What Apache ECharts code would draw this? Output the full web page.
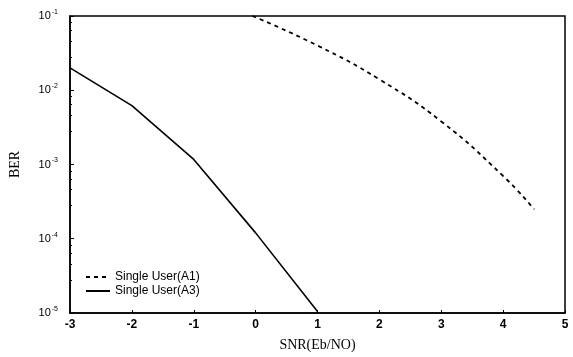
<!DOCTYPE html>
<html>
<head>
<meta charset="utf-8">
<script src="https://cdn.jsdelivr.net/npm/echarts@6/dist/echarts.min.js"></script>
<style>
  html, body { margin: 0; padding: 0; background: #fff; }
  #chart { width: 573px; height: 357px; }
</style>
</head>
<body>
<div id="chart"></div>
<script>
// BER vs SNR curves
const snrA1 = [-0.05, 1, 2, 3, 4, 4.5];
const berA1 = [0.1, 0.04, 0.014, 0.0038, 0.0007, 0.00025];

const snrA3 = [-3, -2, -1, 0, 1];
const berA3 = [0.02, 0.0062, 0.00117, 0.00012, 0.0000105];

const xTicks = { min: -3, max: 5, step: 1 };

const chart = echarts.init(document.getElementById('chart'));

const axisBlack = { onZero: false, lineStyle: { color: '#000', width: 1.5 } };

chart.setOption({
    backgroundColor: '#fff',
    animation: false,
    color: ['#000', '#000'],
    grid: { left: 65, right: 8, top: 16, bottom: 43, show: true, borderColor: '#000', borderWidth: 1.5 },
    legend: {
        left: 80, top: 266, orient: 'vertical',
        itemWidth: 24, itemHeight: 10, itemGap: 2,
        itemStyle: { opacity: 0 },
        textStyle: { fontFamily: 'Liberation Sans, Arial', fontSize: 12, color: '#000' },
        data: ['Single User(A1)', 'Single User(A3)']
    },
    xAxis: {
        type: 'value',
        min: xTicks.min, max: xTicks.max, interval: xTicks.step,
        name: 'SNR(Eb/NO)', nameLocation: 'middle', nameGap: 25,
        nameTextStyle: { fontFamily: 'Liberation Serif, Times New Roman', fontSize: 14, color: '#000' },
        axisLine: axisBlack,
        axisTick: { inside: true, length: 3, lineStyle: { color: '#000' } },
        axisLabel: { fontFamily: 'Liberation Sans, Arial', fontSize: 12, fontWeight: 'bold', color: '#000', margin: 6 },
        splitLine: { show: false }
    },
    yAxis: {
        type: 'log', logBase: 10,
        min: 0.00001, max: 0.1,
        name: 'BER', nameLocation: 'middle', nameGap: 48,
        nameTextStyle: { fontFamily: 'Liberation Serif, Times New Roman', fontSize: 14, color: '#000' },
        axisLine: axisBlack,
        axisTick: { inside: true, length: 4, lineStyle: { color: '#000' } },
        minorTick: { show: true, splitNumber: 5, length: 2, lineStyle: { color: '#000' } },
        axisLabel: {
            color: '#000', margin: 12,
            formatter: function (v) {
                return '{b|10}{s|' + Math.round(Math.log10(v)) + '}';
            },
            rich: {
                b: { fontFamily: 'Liberation Sans, Arial', fontSize: 11, color: '#000' },
                s: { fontFamily: 'Liberation Sans, Arial', fontSize: 7, color: '#000', verticalAlign: 'top', padding: [0, 0, 8, 1] }
            }
        },
        splitLine: { show: false }
    },
    series: [
        {
            name: 'Single User(A1)', type: 'line', symbol: 'none', smooth: true,
            data: snrA1.map((x, i) => [x, berA1[i]]),
            lineStyle: { color: '#000', width: 1.8, type: [4, 4] }
        },
        {
            name: 'Single User(A3)', type: 'line', symbol: 'none',
            data: snrA3.map((x, i) => [x, berA3[i]]),
            lineStyle: { color: '#000', width: 1.6, type: 'solid' }
        }
    ]
});
</script>
</body>
</html>
